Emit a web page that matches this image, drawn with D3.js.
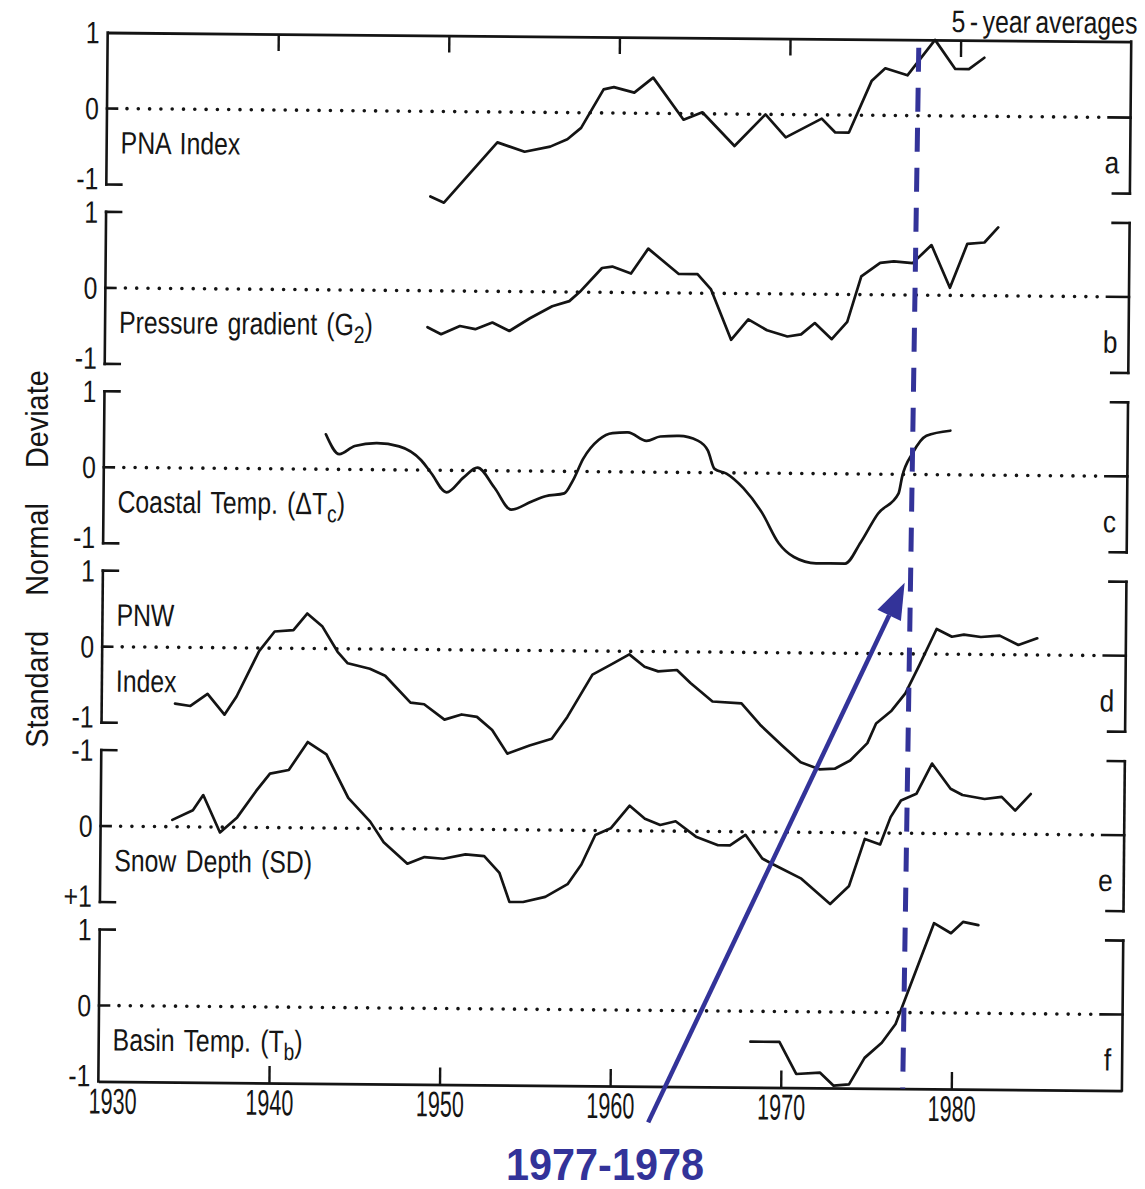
<!DOCTYPE html>
<html>
<head>
<meta charset="utf-8">
<script src="https://cdn.jsdelivr.net/npm/d3@7"></script>
<style>
  body { margin: 0; background: #fff; }
  text { font-family: "Liberation Sans", Arial, sans-serif; fill: #151515; }
</style>
</head>
<body>
<svg id="chart" width="1145" height="1189"></svg>
<script>
// Decade ticks along the time axis
const years = [1930, 1940, 1950, 1960, 1970, 1980];
const letters = ["a", "b", "c", "d", "e", "f"];
// Panel names: odd entries are subscripts
const panelNames = [
  ["PNA Index"],
  ["Pressure gradient (G", "2", ")"],
  ["Coastal Temp. (\u0394T", "c", ")"],
  ["PNW"],
  ["Snow Depth (SD)"],
  ["Basin Temp. (T", "b", ")"]
];
const tickTexts = [
  ["1", "0", "-1"], ["1", "0", "-1"], ["1", "0", "-1"],
  ["1", "0", "-1"], ["-1", "0", "+1"], ["1", "0", "-1"]
];

// 5-year running means, standard normal deviates: [year, value]
const pnaIndex = [[1949.0,-1.12],[1949.8,-1.20],[1952.9,-0.40],[1954.5,-0.52],[1956.0,-0.45],[1957.0,-0.35],[1957.8,-0.20],[1959.1,0.31],[1959.7,0.34],[1960.9,0.27],[1962.0,0.47],[1963.8,-0.08],[1964.9,0.02],[1966.8,-0.42],[1968.6,0.0],[1969.8,-0.30],[1971.9,-0.05],[1972.7,-0.23],[1973.5,-0.23],[1974.8,0.45],[1975.6,0.62],[1976.9,0.53],[1978.5,1.0],[1979.7,0.62],[1980.5,0.62],[1981.4,0.77]];
const pressureGradient = [[1948.9,-0.48],[1949.7,-0.57],[1950.8,-0.46],[1951.7,-0.50],[1952.7,-0.41],[1953.7,-0.52],[1954.9,-0.35],[1956.2,-0.19],[1957.2,-0.12],[1957.8,0.0],[1959.1,0.32],[1959.7,0.34],[1960.8,0.25],[1961.8,0.58],[1963.6,0.25],[1964.7,0.25],[1965.5,0.05],[1966.7,-0.61],[1967.7,-0.34],[1968.8,-0.48],[1970.0,-0.56],[1970.8,-0.53],[1971.6,-0.38],[1972.6,-0.59],[1973.5,-0.36],[1974.3,0.24],[1975.4,0.42],[1976.2,0.44],[1977.3,0.42],[1978.4,0.66],[1979.5,0.10],[1980.5,0.68],[1981.5,0.70],[1982.3,0.90]];
const coastalTemp = [[1943.0,0.46],[1943.8,0.20],[1944.7,0.31],[1946.0,0.35],[1947.3,0.31],[1948.6,0.13],[1949.2,-0.04],[1950.1,-0.29],[1951.1,-0.09],[1951.9,0.04],[1952.9,-0.22],[1953.9,-0.51],[1955.1,-0.40],[1955.9,-0.33],[1957.0,-0.29],[1957.5,-0.12],[1958.1,0.17],[1959.0,0.42],[1959.8,0.51],[1960.7,0.52],[1961.8,0.41],[1962.6,0.47],[1963.7,0.48],[1964.8,0.42],[1965.4,0.29],[1965.8,0.05],[1966.5,-0.01],[1967.5,-0.20],[1968.6,-0.52],[1969.6,-0.92],[1970.5,-1.10],[1971.8,-1.18],[1973.5,-1.18],[1974.4,-0.90],[1975.4,-0.52],[1976.6,-0.25],[1976.8,-0.03],[1977.4,0.28],[1978.2,0.51],[1979.6,0.58]];
const pnwIndex = [[1934.3,-0.74],[1935.2,-0.77],[1936.2,-0.61],[1937.2,-0.88],[1937.9,-0.64],[1939.2,-0.04],[1940.1,0.22],[1941.2,0.24],[1942.0,0.46],[1942.9,0.29],[1943.8,-0.04],[1944.4,-0.19],[1945.7,-0.26],[1946.6,-0.35],[1948.1,-0.70],[1948.9,-0.72],[1950.1,-0.92],[1951.1,-0.85],[1952.0,-0.88],[1952.9,-1.05],[1953.8,-1.36],[1955.1,-1.25],[1956.4,-1.16],[1957.3,-0.87],[1958.75,-0.31],[1959.8,-0.18],[1960.9,-0.04],[1961.8,-0.20],[1962.6,-0.26],[1963.7,-0.24],[1964.5,-0.41],[1965.8,-0.65],[1967.5,-0.67],[1968.6,-0.95],[1969.9,-1.22],[1971.0,-1.44],[1972.1,-1.53],[1973.0,-1.52],[1973.9,-1.41],[1974.9,-1.18],[1975.4,-0.92],[1976.3,-0.75],[1977.1,-0.52],[1977.9,-0.15],[1978.9,0.33],[1979.8,0.23],[1980.5,0.26],[1981.5,0.23],[1982.6,0.25],[1983.7,0.13],[1984.8,0.22]];
const snowDepth = [[1934.2,-0.09],[1935.4,-0.22],[1936.0,-0.42],[1937.0,0.07],[1938.0,-0.13],[1939.1,-0.48],[1939.9,-0.71],[1941.0,-0.76],[1942.1,-1.13],[1943.2,-0.97],[1944.5,-0.40],[1945.8,-0.09],[1946.6,0.18],[1948.0,0.46],[1949.0,0.37],[1950.1,0.39],[1951.4,0.33],[1952.5,0.35],[1953.4,0.57],[1954.0,0.95],[1954.8,0.95],[1956.1,0.88],[1957.4,0.71],[1958.2,0.45],[1959.0,0.06],[1959.9,-0.03],[1961.0,-0.33],[1961.9,-0.16],[1962.8,-0.08],[1963.7,-0.13],[1964.9,0.07],[1966.2,0.18],[1966.9,0.18],[1967.8,0.04],[1968.8,0.35],[1969.4,0.42],[1971.1,0.61],[1972.8,0.94],[1973.9,0.70],[1974.8,0.08],[1975.7,0.15],[1976.3,-0.21],[1976.9,-0.43],[1977.8,-0.52],[1978.7,-0.92],[1979.8,-0.59],[1980.5,-0.51],[1981.8,-0.46],[1982.8,-0.49],[1983.6,-0.31],[1984.5,-0.53]];
const basinTemp = [[1968.2,-0.40],[1969.9,-0.40],[1970.9,-0.82],[1972.3,-0.80],[1973.1,-0.97],[1974.0,-0.95],[1974.9,-0.60],[1975.9,-0.40],[1976.7,-0.15],[1977.2,0.15],[1978.9,1.18],[1979.9,1.05],[1980.6,1.20],[1981.5,1.16]];

const series = [pnaIndex, pressureGradient, coastalTemp, pnwIndex, snowDepth, basinTemp];
const invertedPanel = [false, false, false, false, true, false];

// Regime-shift marker and arrow (years)
const shiftYears = [1977.55, 1977.15];
const arrowYears = [1962.25, 1977.0];

const svg = d3.select("#chart");
const ink = "#141414";
const blue = "#333399";

const zero0 = 113, step = 179.4, half = 76;
const x = d3.scaleLinear().domain([1930, 1990]).range([103, 1126.6]);
const left = x(1930), right = x(1990);

// condensed lettering: horizontally squeezed text
function label(parent, px, py, str, size, sx, anchor) {
  return parent.append("text")
    .attr("transform", `translate(${px},${py}) scale(${sx},1)`)
    .attr("text-anchor", anchor || "start")
    .style("font-size", size + "px")
    .text(str);
}

// slight tilt of the whole figure
const fig = svg.append("g").attr("transform", "rotate(0.51 612 560)");

const panels = series.map((s, i) => {
  const z = zero0 + i * step;
  const y = d3.scaleLinear()
    .domain(invertedPanel[i] ? [1, -1] : [-1, 1])
    .range([z + half, z - half]);
  return { z, top: z - half, bottom: z + half, y };
});

panels.forEach((p, i) => {
  const g = fig.append("g");
  const line = (x1, y1, x2, y2, w = 2.6) =>
    g.append("line").attr("x1", x1).attr("y1", y1).attr("x2", x2).attr("y2", y2)
      .attr("stroke", ink).attr("stroke-width", w).attr("stroke-linecap", "square");

  // left bracket
  line(left, p.top, left, p.bottom);
  if (i !== 0) line(left, p.top, left + 15, p.top);
  if (i !== 5) line(left, p.bottom, left + 15, p.bottom);
  line(left, p.z, left + 10, p.z);
  // right bracket
  line(right, i === 0 ? p.top : p.top + 2, right, p.bottom);
  if (i !== 0) line(right - 17, p.top + 2, right, p.top + 2);
  if (i !== 5) line(right - 17, p.bottom, right, p.bottom);
  line(right - 22, p.z, right, p.z);

  // dotted zero line
  g.append("line")
    .attr("x1", left + 20).attr("x2", right - 26)
    .attr("y1", p.z).attr("y2", p.z)
    .attr("stroke", ink).attr("stroke-width", 3.6)
    .attr("stroke-linecap", "round")
    .attr("stroke-dasharray", "0 11.3");

  // value labels
  [p.top, p.z, p.bottom].forEach((yy, k) => {
    label(g, left - 8, yy + (k === 2 ? 5 : 11), tickTexts[i][k], 31, 0.8, "end");
  });

  // panel letter
  label(g, right - 11, p.z + 56, letters[i], 31, 0.85, "end");

  // panel name
  const t = label(g, left + 14, i === 3 ? p.z - 21 : p.z + 45, "", 31, 0.8)
    .style("word-spacing", "3px");
  panelNames[i].forEach((part, k) => {
    const ts = t.append("tspan").text(part);
    if (k % 2 === 1) ts.attr("dy", 8).style("font-size", "24px");
    else if (k > 0) ts.attr("dy", -8);
  });
  if (i === 3) label(g, left + 14, p.z + 45, "Index", 31, 0.8);

  // series curve
  const path = d3.line()
    .x(d => x(d[0]))
    .y(d => p.y(d[1]))
    .curve(i === 2 ? d3.curveMonotoneX : d3.curveLinear);
  g.append("path")
    .datum(series[i])
    .attr("d", path)
    .attr("fill", "none")
    .attr("stroke", ink)
    .attr("stroke-width", 2.7)
    .attr("stroke-linejoin", "round")
    .attr("stroke-linecap", "round");
});

// top and bottom time axes
const topY = panels[0].top, botY = panels[5].bottom;
const topAxis = fig.append("g").attr("transform", `translate(0,${topY})`)
  .call(d3.axisTop(x).tickValues(years.slice(1)).tickSize(-17).tickSizeOuter(0).tickFormat(""));
const botAxis = fig.append("g").attr("transform", `translate(0,${botY})`)
  .call(d3.axisBottom(x).tickValues(years).tickSize(-17).tickSizeOuter(0).tickPadding(4).tickFormat(d3.format("d")));
[topAxis, botAxis].forEach(a => {
  a.select(".domain").attr("stroke", ink).attr("stroke-width", 2.8);
  a.selectAll(".tick line").attr("stroke", ink).attr("stroke-width", 2.4);
});
botAxis.selectAll(".tick").filter(d => d === 1930).select("line").remove();
botAxis.selectAll(".tick text")
  .attr("fill", ink)
  .style("font-family", '"Liberation Sans", Arial, sans-serif')
  .style("font-size", "36px")
  .attr("dy", "0.78em")
  .attr("transform", d => (d === 1930 ? "translate(14,0) " : "") + "scale(0.6,1)");

label(fig, right + 6, topY - 8, "5 - year averages", 31, 0.8, "end")
  .style("word-spacing", "-3px");

// vertical axis title
svg.append("text")
  .attr("transform", "translate(48,559) rotate(-90) scale(0.9,1)")
  .attr("text-anchor", "middle")
  .style("font-size", "32px")
  .style("word-spacing", "30px")
  .text("Standard Normal Deviate");

// 1977-1978 marker: dashed line and arrow
fig.append("line")
  .attr("x1", x(shiftYears[0])).attr("y1", topY + 8)
  .attr("x2", x(shiftYears[1])).attr("y2", botY)
  .attr("stroke", blue).attr("stroke-width", 5)
  .attr("stroke-dasharray", "24 16");

const ax0 = x(arrowYears[0]), ay0 = botY + 36;
const ax1 = x(arrowYears[1]), ay1 = panels[3].top + 5;
const ang = Math.atan2(ay1 - ay0, ax1 - ax0);
const headL = 36, headW = 13;
const bx = ax1 - headL * Math.cos(ang), by = ay1 - headL * Math.sin(ang);
fig.append("line")
  .attr("x1", ax0).attr("y1", ay0).attr("x2", bx).attr("y2", by)
  .attr("stroke", blue).attr("stroke-width", 4.5);
fig.append("path")
  .attr("d", `M${ax1},${ay1}L${bx + headW * Math.sin(ang)},${by - headW * Math.cos(ang)}L${bx - headW * Math.sin(ang)},${by + headW * Math.cos(ang)}Z`)
  .attr("fill", blue);

label(svg, 605, 1180, "1977-1978", 45, 0.92, "middle")
  .style("font-weight", "bold")
  .style("fill", blue);
</script>
</body>
</html>
